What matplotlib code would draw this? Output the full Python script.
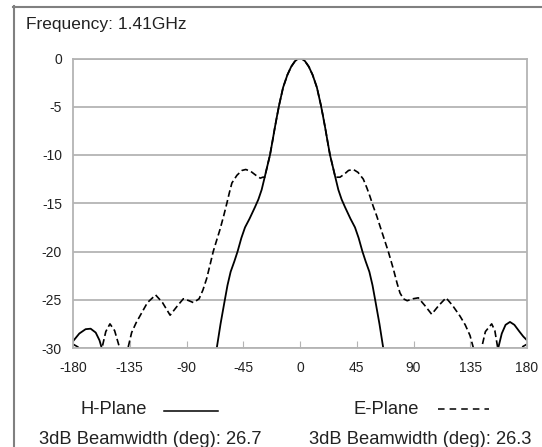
import matplotlib
matplotlib.use("Agg")
import matplotlib.pyplot as plt
from matplotlib.lines import Line2D

plt.rcParams['axes.unicode_minus'] = False

# H-plane (solid) pattern, angle in deg, gain in dB
h_angles = [-180, -175, -170, -166, -162, -159, -157, -154, -110, -70, -66, -63, -60,
            -57.5, -55, -52, -49.5, -46.5, -43.6, -40, -35.7, -33, -30.4, -28, -26,
            -23.8, -22, -20, -18, -16.5, -13.4, -10, -7, -4, -2, 0, 2, 4, 7, 10, 13.4, 16.5,
            18, 20, 22, 23.8, 26, 28, 30.4, 33, 35.7, 40, 43.6, 46.5, 49.5, 52, 55, 57.5,
            60, 63, 66, 70, 110, 154, 157, 160, 163, 166.5, 170, 174, 177, 180]
h_db = [-29.3, -28.5, -28.05, -28.0, -28.4, -29.2, -30.1, -32, -38, -32.5, -30, -27.5, -25.3,
        -23.5, -22.1, -21.0, -20, -18.6, -17.5, -16.6, -15.4, -14.6, -13.6, -12.3, -11.2,
        -10, -8.7, -7.2, -5.8, -4.8, -3.0, -1.7, -0.85, -0.28, -0.07, 0, -0.07, -0.28, -0.85, -1.7, -3.0, -4.8,
        -5.8, -7.2, -8.7, -10, -11.2, -12.3, -13.6, -14.6, -15.4, -16.6, -17.5, -18.6, -20, -21.0, -22.1, -23.5,
        -25.3, -27.5, -30, -32.5, -38, -32, -30.1, -28.5, -27.6, -27.3, -27.6, -28.3, -28.8, -29.2]

# E-plane (dashed) pattern
e_angles = [-180, -176, -172, -166, -160, -157, -154, -150.7, -147, -143, -140, -136.4, -133.5,
            -130, -127, -121, -114.5, -109, -103, -97, -92.5, -88, -84.5, -80, -77, -74, -71,
            -68.8, -66, -63.4, -60.5, -58, -56, -54, -50, -46, -43, -39, -35, -31.5, -29.5, -28,
            -26, -23.8, -22, -20, -18, -16.5, -13.4, -10, -7, -4, -2, 0, 2, 4, 7, 10, 13.4, 16.5, 18, 20,
            22, 23.8, 26, 28, 29.5, 31.7, 35, 38.5, 42.3, 46, 50.2, 53, 55.5, 58, 60.8, 63.5, 66,
            70, 74, 77, 79.3, 82, 85, 89.5, 93.8, 99, 104.4, 110, 115.8, 121, 126.9, 131, 134.8,
            137.5, 140.5, 144, 147, 152, 154.5, 156.8, 160, 166, 172, 176, 180]
e_db = [-29.6, -29.9, -31.5, -34, -31.5, -30, -28.3, -27.5, -28.2, -30, -32, -30, -28.4,
        -27.4, -26.7, -25.3, -24.5, -25.3, -26.6, -25.6, -24.9, -25.1, -25.3, -24.9, -24.0, -22.8, -21.2,
        -20, -18.8, -17.7, -16.3, -15, -13.9, -12.9, -12.1, -11.6, -11.5, -11.7, -12.1, -12.4, -12.3, -12.3,
        -11.2, -10, -8.7, -7.2, -5.8, -4.8, -3.0, -1.7, -0.85, -0.28, -0.07, 0, -0.07, -0.28, -0.85, -1.7, -3.0, -4.8, -5.8, -7.2,
        -8.7, -10, -11.2, -12.3, -12.3, -12.3, -12.0, -11.6, -11.5, -11.8, -12.5, -13.4, -14.3, -15.3, -16.3, -17.4, -18.4,
        -20, -21.8, -23.3, -24.3, -24.9, -25.1, -24.9, -24.8, -25.6, -26.5, -25.6, -24.8, -25.6, -26.7, -27.6, -28.7,
        -30, -32, -30, -28.3, -27.5, -28.2, -30, -32, -34, -31.5, -29.9, -29.6]

x_ticks = [-180, -135, -90, -45, 0, 45, 90, 135, 180]
y_ticks = [0, -5, -10, -15, -20, -25, -30]

W, H = 542, 447
fig = plt.figure(figsize=(W / 100, H / 100), dpi=100)
ax = fig.add_axes([73 / W, 1 - 348 / H, 454 / W, (348 - 58.5) / H])

grid_c = '#b4b4b4'
ax.plot(h_angles, h_db, color='black', lw=1.3)
ax.plot(e_angles, e_db, color='black', lw=1.2, dashes=(4, 2))

ax.set_xlim(-180, 180)
ax.set_ylim(-30, 0)
ax.set_xticks(x_ticks)
ax.set_yticks(y_ticks)
ax.grid(axis='y', color=grid_c, lw=1.3)
for s in ax.spines.values():
    s.set_color(grid_c)
    s.set_linewidth(1.3)
ax.tick_params(axis='x', direction='in', length=5, color=grid_c, pad=9.5,
               labelsize=10, labelcolor='#222222')
ax.tick_params(axis='y', length=0, pad=8, labelsize=10, labelcolor='#222222')
for lab in ax.get_xticklabels() + ax.get_yticklabels():
    lab.set_family('Liberation Sans')

def fx(px):
    return px / W

def fy(py):
    return 1 - py / H

tfont = dict(family='Liberation Sans', fontsize=13.2, color='#222222', va='center')
fig.text(fx(26), fy(25), 'Frequency: 1.41GHz', ha='left',
         **dict(tfont, fontsize=12.5))
fig.text(fx(80), fy(410), 'H-Plane', ha='left', **tfont)
fig.text(fx(419), fy(410), 'E-Plane', ha='right', **tfont)
fig.text(fx(39), fy(440), '3dB Beamwidth (deg): 26.7', ha='left', **tfont)
fig.text(fx(531), fy(440), '3dB Beamwidth (deg): 26.3', ha='right', **tfont)

fig.add_artist(Line2D([fx(164), fx(218)], [fy(411), fy(411)], color='black', lw=1.1))
fig.add_artist(Line2D([fx(438), fx(489)], [fy(409), fy(409)], color='black', lw=1.1,
                      dashes=(4.3, 3.3)))

# outer frame
frame_c = '#808080'
fig.add_artist(Line2D([fx(13), 1], [fy(6.5), fy(6.5)], color=frame_c, lw=1.5))
fig.add_artist(Line2D([fx(13.5), fx(13.5)], [fy(6), 0], color=frame_c, lw=1.5))

fig.savefig('out.png', dpi=100)
